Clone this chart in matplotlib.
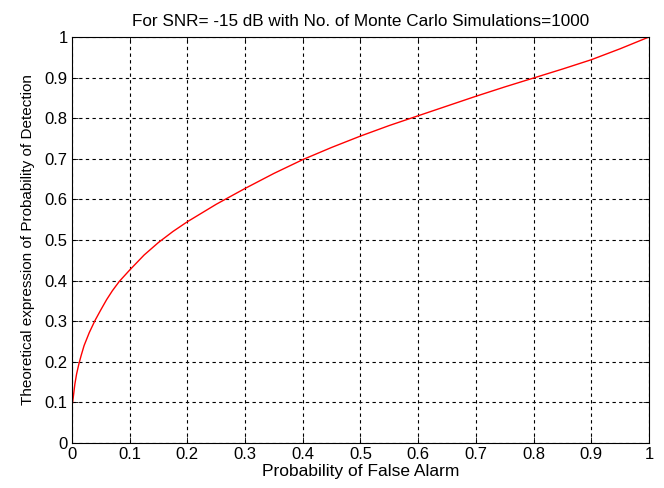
import numpy as np
import matplotlib
matplotlib.use("Agg")
import matplotlib.pyplot as plt

plt.rcParams['font.family'] = ['Liberation Sans', 'DejaVu Sans']

# points
pfa = [0.0, 0.0, 0.002, 0.005, 0.008, 0.012, 0.016, 0.021, 0.03, 0.04, 0.05,
       0.06, 0.07, 0.082, 0.1, 0.125, 0.15, 0.175, 0.2, 0.25, 0.3, 0.35, 0.4,
       0.45, 0.5, 0.55, 0.6, 0.65, 0.7, 0.75, 0.8, 0.85, 0.9, 0.95, 1.0]
pd_theory = [0.0, 0.09, 0.11, 0.145, 0.17, 0.195, 0.216, 0.24, 0.272, 0.302, 0.328,
             0.353, 0.375, 0.398, 0.426, 0.463, 0.494, 0.521, 0.545, 0.588, 0.627,
             0.664, 0.698, 0.728, 0.756, 0.782, 0.806, 0.83, 0.854, 0.877, 0.899,
             0.921, 0.944, 0.971, 1.0]
xticks = np.arange(0, 1.01, 0.1)
yticks = np.arange(0, 1.01, 0.1)
tick_labels = ['0', '0.1', '0.2', '0.3', '0.4', '0.5', '0.6', '0.7', '0.8', '0.9', '1']

fig = plt.figure(figsize=(6.64, 4.88), dpi=100)
ax = fig.add_axes([0.1084, 0.0922, 0.869, 0.832])
ax.plot(pfa, pd_theory, color='red', lw=1)

ax.set_xlim(0, 1)
ax.set_ylim(0, 1)
ax.set_xticks(xticks)
ax.set_yticks(yticks)
ax.set_xticklabels(tick_labels)
ax.set_yticklabels(tick_labels)
ax.tick_params(direction='in', top=True, right=True, labelsize=12, length=4, width=0.6, pad=3)
ax.grid(True, color='black', linestyle=(0, (3, 3)), linewidth=0.8)
for s in ax.spines.values():
    s.set_linewidth(0.8)

ax.set_xlabel('Probability of False Alarm', fontsize=12.5, labelpad=1)
ax.set_ylabel('Theoretical expression of Probability of Detection', fontsize=11, labelpad=7)
ax.set_title('For SNR= -15 dB with No. of Monte Carlo Simulations=1000', fontsize=12.3, pad=8)

fig.savefig('out.png', dpi=100)
